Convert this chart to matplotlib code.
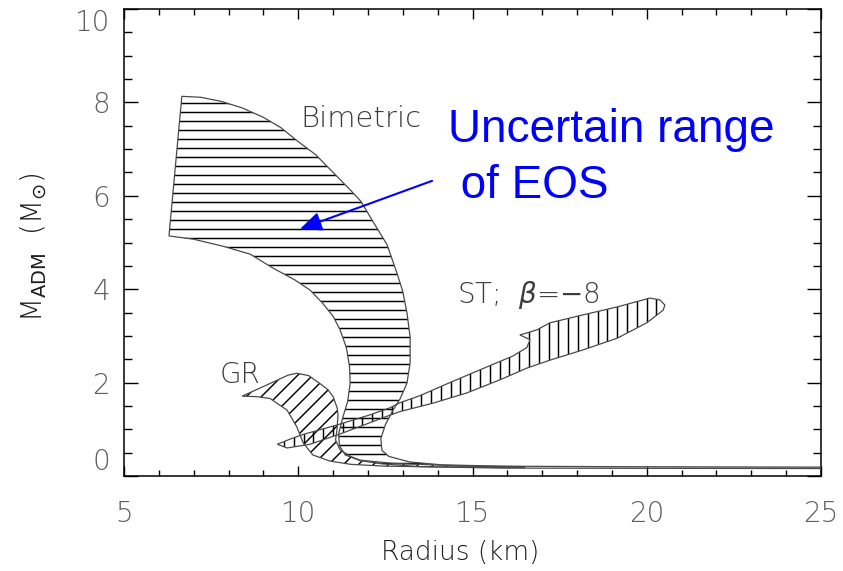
import numpy as np
import matplotlib
matplotlib.use("Agg")
import matplotlib.pyplot as plt
from matplotlib.patches import Polygon
from matplotlib.collections import LineCollection
from matplotlib.ticker import MultipleLocator

# ---- mass-radius bands (Radius in km, M_ADM in solar masses) ----
# Bimetric band: outer edge (top-left corner -> far tail), then inner edge back
bimetric_x = [6.66, 7.2, 7.8, 8.4, 9.0, 9.5, 10.0, 10.5, 11.0, 11.5, 11.8, 12.2,
              12.55, 12.83, 13.0, 13.12, 13.21, 13.21, 13.12, 12.92, 12.72, 12.5,
              12.37, 12.4, 12.6, 13.2, 14.1, 15.8, 19.0, 25.0,
              25.0, 19.0, 15.8, 13.5, 12.4, 11.77, 11.35, 11.18, 11.16, 11.28,
              11.42, 11.49, 11.47, 11.38, 11.2, 11.0, 10.7, 10.34, 9.9, 9.28,
              8.62, 7.84, 7.0, 6.29]
bimetric_y = [8.13, 8.11, 8.02, 7.88, 7.68, 7.46, 7.16, 6.88, 6.5, 6.12, 5.88, 5.38,
              4.95, 4.35, 3.95, 3.49, 2.98, 2.42, 1.99, 1.65, 1.41, 1.1,
              0.8, 0.55, 0.42, 0.3, 0.24, 0.21, 0.2, 0.19,
              0.16, 0.165, 0.17, 0.2, 0.26, 0.33, 0.45, 0.65, 0.9, 1.26,
              1.6, 1.99, 2.35, 2.75, 3.13, 3.42, 3.7, 3.98, 4.2, 4.45,
              4.75, 4.92, 5.07, 5.14]

# GR band
gr_x = [8.39, 9.1, 9.71, 9.96, 10.3, 10.62, 10.85, 11.0, 11.12, 11.14, 11.11,
        11.07, 11.2, 11.5, 11.77, 12.72, 14.5, 16.5,
        16.5, 14.5, 12.5, 11.5, 10.91, 10.42, 10.14, 9.96, 9.68, 9.19, 8.8]
gr_y = [1.71, 1.95, 2.16, 2.2, 2.15, 1.98, 1.85, 1.7, 1.45, 1.3, 0.98,
        0.77, 0.56, 0.42, 0.34, 0.27, 0.22, 0.2,
        0.18, 0.19, 0.21, 0.25, 0.32, 0.45, 0.71, 1.05, 1.41, 1.66, 1.7]

# Scalar-tensor band (beta = -8)
st_x = [9.4, 9.8, 10.14, 11.1, 12.06, 12.63, 12.92, 13.49, 14.35, 15.3, 16.16,
        16.56, 16.65, 16.36, 16.85, 17.22, 18.17, 19.15, 20.09, 20.38, 20.52,
        20.47, 20.0, 19.15, 18.17, 17.22, 16.56, 15.79, 14.84, 13.87, 12.92,
        12.55, 11.2, 10.34, 9.68]
st_y = [0.68, 0.8, 0.89, 1.09, 1.31, 1.46, 1.57, 1.72, 2.0, 2.3, 2.57,
        2.75, 2.92, 3.02, 3.13, 3.28, 3.45, 3.62, 3.81, 3.77, 3.66,
        3.55, 3.28, 2.95, 2.70, 2.48, 2.31, 2.06, 1.78, 1.56, 1.38,
        1.28, 0.9, 0.68, 0.6]

x_ticks = [5, 10, 15, 20, 25]
y_ticks = [0, 2, 4, 6, 8, 10]
xlim = (5, 25)
ylim = (0, 10)

fig = plt.figure(figsize=(8.43, 5.71), dpi=100)
ax_rect = [124 / 843, 95 / 571, 697 / 843, 467 / 571]
ax = fig.add_axes(ax_rect)
ax.set_xlim(*xlim)
ax.set_ylim(*ylim)

# pixels per data unit, used to space the hatch lines evenly on screen
px_x = fig.get_figwidth() * fig.dpi * ax_rect[2] / (xlim[1] - xlim[0])
px_y = fig.get_figheight() * fig.dpi * ax_rect[3] / (ylim[1] - ylim[0])


def hatch_segments(kind, spacing_px):
    segs = []
    if kind == "h":
        step = spacing_px / px_y
        for y in np.arange(ylim[0] + step / 2, ylim[1], step):
            segs.append([(xlim[0], y), (xlim[1], y)])
    elif kind == "v":
        step = spacing_px / px_x
        for x in np.arange(xlim[0] + step / 3, xlim[1], step):
            segs.append([(x, ylim[0]), (x, ylim[1])])
    else:  # 45 degree on screen
        slope = px_x / px_y
        step = spacing_px / px_x
        for c in np.arange(xlim[0] - (ylim[1] - ylim[0]) / slope, xlim[1], step):
            segs.append([(xlim[0], slope * (xlim[0] - c)),
                         (xlim[1], slope * (xlim[1] - c))])
    return segs


bands = [
    (bimetric_x, bimetric_y, "h", 9.0),
    (gr_x, gr_y, "d", 15.0),
    (st_x, st_y, "v", 9.8),
]
for xs, ys, kind, spacing in bands:
    pts = list(zip(xs, ys))
    clip = Polygon(pts, closed=True, fill=False, linewidth=0)
    ax.add_patch(clip)
    lc = LineCollection(hatch_segments(kind, spacing), colors="black",
                        linewidths=1.05, zorder=2)
    ax.add_collection(lc, autolim=False)
    lc.set_clip_path(clip)
    ax.add_patch(Polygon(pts, closed=True, fill=False, edgecolor="#4a4a4a",
                         linewidth=0.9, zorder=3))

# axes, ticks
for sp in ax.spines.values():
    sp.set_linewidth(1.1)
ax.set_xticks(x_ticks)
ax.set_yticks(y_ticks)
ax.xaxis.set_minor_locator(MultipleLocator(1))
ax.yaxis.set_minor_locator(MultipleLocator(0.5))
ax.tick_params(which="both", direction="in", top=True, right=True,
               width=1.0, color="black", labelcolor="#5e5e5e")
ax.tick_params(axis="x", which="major", length=7.2, pad=17, labelsize=20)
ax.tick_params(axis="x", which="minor", length=4.3)
ax.tick_params(axis="y", which="major", length=10, pad=10, labelsize=20)
ax.tick_params(axis="y", which="minor", length=5.8)
for lab in ax.get_xticklabels() + ax.get_yticklabels():
    lab.set_fontweight("light")

yticks = ax.yaxis.get_major_ticks()
yticks[0].label1.set_verticalalignment("bottom")
yticks[-1].label1.set_verticalalignment("top")

ax.set_xlabel("Radius (km)", fontsize=19, color="#1e1e1e", fontweight="light")
ax.xaxis.set_label_coords(0.482, -0.138)
ax.set_ylabel(r"M$_{\mathrm{ADM}}$  (M$_{\odot}$)", fontsize=20, color="#1e1e1e",
              fontweight="light")
ax.yaxis.set_label_coords(-0.108, 0.49)

# curve labels
label_color = "#3c3c3c"
ax.text(10.05, 7.47, "Bimetric", fontsize=21, color=label_color, va="baseline",
        fontweight="light")
ax.text(7.75, 1.99, "GR", fontsize=20, color=label_color, va="baseline",
        fontweight="light")
ax.text(14.56, 3.70, r"ST;  $\beta$=$-$8", fontsize=20, color=label_color,
        va="baseline", fontweight="light")

# annotation
ax.annotate("", xy=(10.05, 5.29), xytext=(13.84, 6.32),
            arrowprops=dict(arrowstyle="-|>,head_length=0.5,head_width=0.22",
                            color="blue", lw=1.5, mutation_scale=26,
                            shrinkA=0, shrinkB=0))
ax.text(14.30, 7.16, "Uncertain range", fontsize=33, color="blue",
        family="Liberation Sans", va="baseline")
ax.text(14.30, 5.95, " of EOS", fontsize=33, color="blue",
        family="Liberation Sans", va="baseline")

fig.savefig("out.png", dpi=100)
